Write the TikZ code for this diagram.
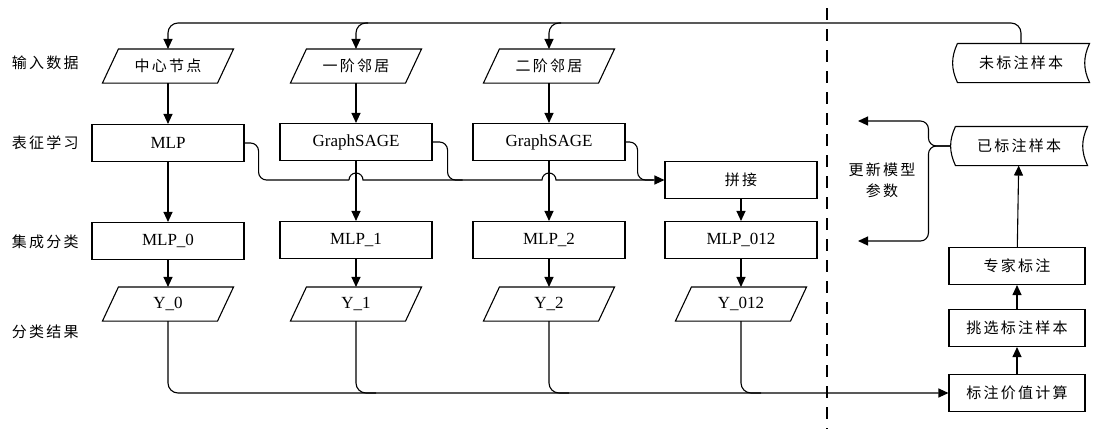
\documentclass[tikz,border=0pt]{standalone}
\usepackage{fontspec}
\setmainfont{Liberation Serif}
\newfontfamily\cjk[LetterSpace=15]{Noto Sans CJK SC}
\usetikzlibrary{arrows.meta}
\begin{document}
\begin{tikzpicture}[x=1pt,y=1pt,line width=1.1pt,
  font=\fontsize{17}{20}\selectfont,
  box/.style={draw,minimum width=152pt,minimum height=37pt,inner sep=0pt},
  data/.style={minimum width=114pt,minimum height=33pt,inner sep=0pt},
  store/.style={minimum width=136pt,minimum height=38pt,inner sep=0pt},
  arr/.style={-{Triangle[length=10pt,width=9pt]}},
  zh/.style={font=\cjk\fontsize{15}{21}\selectfont}]
  \useasboundingbox (0,0) rectangle (1095,-429);
  % row labels
  \node[zh,anchor=west] (l1) at (8,-63) {输入数据};
  \node[zh,anchor=west] (l2) at (8,-143) {表征学习};
  \node[zh,anchor=west] (l3) at (8,-242) {集成分类};
  \node[zh,anchor=west] (l4) at (8,-332) {分类结果};
  % input data
  \node[data,zh] (in0) at (168,-66) {中心节点};
  \node[data,zh] (in1) at (356,-66) {一阶邻居};
  \node[data,zh] (in2) at (549,-66) {二阶邻居};
  % representation learning
  \node[box] (rep0) at (168,-143) {MLP};
  \node[box] (rep1) at (356,-142) {GraphSAGE};
  \node[box] (rep2) at (549,-142) {GraphSAGE};
  \node[box,zh] (cat) at (741,-180) {拼接};
  % ensemble classification
  \node[box] (cls0) at (168,-241) {MLP\_0};
  \node[box] (cls1) at (356,-240) {MLP\_1};
  \node[box] (cls2) at (549,-240) {MLP\_2};
  \node[box] (cls3) at (741,-240) {MLP\_012};
  % results
  \node[data] (out0) at (168,-304) {Y\_0};
  \node[data] (out1) at (356,-304) {Y\_1};
  \node[data] (out2) at (549,-304) {Y\_2};
  \node[data] (out3) at (741,-304) {Y\_012};
  \foreach \n in {in0,in1,in2,out0,out1,out2,out3}
    \draw ([xshift=-8pt]\n.south west) -- ([xshift=8pt]\n.north west)
      -- ([xshift=8pt]\n.north east) -- ([xshift=-8pt]\n.south east) -- cycle;
  % labelling side
  \node[store,zh] (unl) at (1021,-63) {未标注样本};
  \node[store,zh] (lab) at (1019,-146) {已标注样本};
  \node[box,zh,minimum width=136pt] (exp) at (1017,-266) {专家标注};
  \node[box,zh,minimum width=136pt] (sel) at (1017,-328) {挑选标注样本};
  \node[box,zh,minimum width=136pt] (val) at (1017,-393) {标注价值计算};
  \node[zh,align=center] (upd) at (882,-180) {更新模型\\参数};
  \foreach \n in {unl,lab}
    \draw ([xshift=5pt]\n.north west) -- (\n.north east)
      to[out=-115,in=115] (\n.south east) -- ([xshift=5pt]\n.south west)
      to[out=115,in=-115] ([xshift=5pt]\n.north west);
  % separator
  \draw[dash pattern=on 12pt off 9pt] (827,-8) -- (827,-429);
  % feed from unlabelled samples
  \coordinate (top) at (0,-23);
  \draw[arr,rounded corners=10pt] (unl.north) |- (in0.north |- top) -- (in0.north);
  \draw[arr,rounded corners=10pt] ([xshift=12pt]in1.north |- top) -| (in1.north);
  \draw[arr,rounded corners=10pt] ([xshift=12pt]in2.north |- top) -| (in2.north);
  % columns
  \foreach \i in {0,1,2}{
    \draw[arr] (in\i) -- (rep\i);
    \draw[arr] (rep\i) -- (cls\i);
  }
  \draw[arr] (cat) -- (cls3);
  \foreach \i in {0,1,2,3}
    \draw[arr] (cls\i) -- (out\i);
  % concatenation with line jumps
  \coordinate (j1) at (rep1.south |- cat.west);
  \coordinate (j2) at (rep2.south |- cat.west);
  \draw[rounded corners=8pt] (rep0.east) -- ++(14,0) |- ([xshift=-7pt]j1);
  \draw[arr] ([xshift=-7pt]j1) arc(180:0:7) -- ([xshift=-7pt]j2) arc(180:0:7) -- (cat.west);
  \draw[rounded corners=8pt] (rep1.east) -- ++(15,0) |- ([xshift=30pt]rep1.east |- cat.west);
  \draw[rounded corners=8pt] (rep2.east) -- ++(12,0) |- ([xshift=28pt]rep2.east |- cat.west);
  % results to value computation
  \draw[arr,rounded corners=10pt] (out0.south) |- (val.west);
  \foreach \c in {out1,out2,out3}
    \draw[rounded corners=10pt] (\c.south) |- ([xshift=20pt]\c.south |- val.west);
  % labelling loop
  \draw[arr] (val) -- (sel);
  \draw[arr] (sel) -- (exp);
  \draw[arr] (exp) -- (lab);
  \coordinate (upd1) at (858,-121);
  \coordinate (upd2) at (858,-241);
  \draw[arr,rounded corners=8pt] (lab.west) -- ++(-22,0) |- (upd1);
  \draw[arr,rounded corners=8pt] (lab.west) -- ++(-22,0) |- (upd2);
\end{tikzpicture}
\end{document}
